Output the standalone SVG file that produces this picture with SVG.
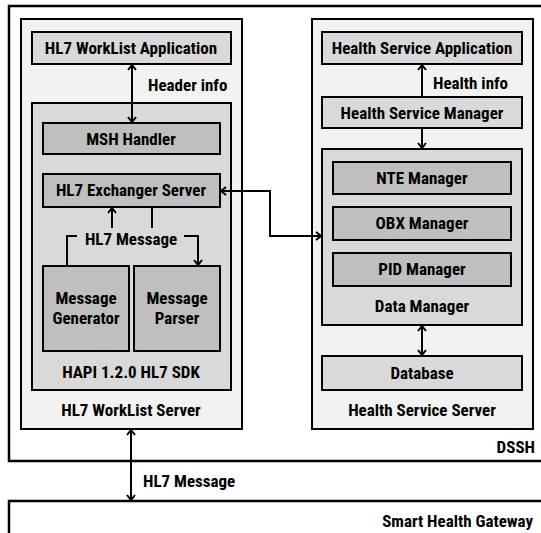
<svg xmlns="http://www.w3.org/2000/svg" width="541" height="533" viewBox="0 0 541 533">
<style>
text{font-family:"Liberation Sans Narrow","Roboto Condensed","DejaVu Sans Condensed","Noto Sans",sans-serif;font-weight:bold;font-size:17px;fill:#000;text-anchor:middle}
.outer{fill:#fff;stroke:#000;stroke-width:2.5}
.srv{fill:#f2f2f2;stroke:#000;stroke-width:2}
.mid{fill:#d9d9d9;stroke:#000;stroke-width:2}
.dark{fill:#bfbfbf;stroke:#000;stroke-width:2}
.c{fill:none;stroke:#000;stroke-width:2}
</style>
<defs>
<marker id="ah" viewBox="0 0 10 10" refX="9" refY="5" markerWidth="10" markerHeight="10" markerUnits="userSpaceOnUse" orient="auto-start-reverse">
<path d="M4,1 L9,5 L4,9" fill="none" stroke="#000" stroke-width="2"/>
</marker>
</defs>
<g id="dssh"><rect class="outer" x="9" y="6" width="540" height="455"/><text x="535" y="453" style="text-anchor:end">DSSH</text></g>
<g id="gateway"><rect class="outer" x="9" y="501" width="540" height="40"/><text x="533" y="527" style="text-anchor:end">Smart Health Gateway</text></g>
<g id="worklist-server"><rect class="srv" x="21" y="19" width="221" height="410"/><text x="131" y="416">HL7 WorkList Server</text></g>
<g id="worklist-app"><rect class="mid" x="32" y="32" width="199" height="32"/><text x="131" y="54">HL7 WorkList Application</text></g>
<g id="hapi"><rect class="mid" x="32" y="103" width="199" height="287"/><text x="131" y="378">HAPI 1.2.0 HL7 SDK</text></g>
<g id="msh"><rect class="dark" x="43" y="123" width="177" height="31"/><text x="131" y="145">MSH Handler</text></g>
<g id="exchanger"><rect class="dark" x="43" y="174" width="177" height="33"/><text x="131" y="196">HL7 Exchanger Server</text></g>
<g id="generator"><rect class="dark" x="43" y="266" width="86" height="85"/><text x="86" y="304">Message</text><text x="86" y="324">Generator</text></g>
<g id="parser"><rect class="dark" x="134" y="266" width="86" height="85"/><text x="177" y="304">Message</text><text x="177" y="324">Parser</text></g>
<g id="health-server"><rect class="srv" x="312" y="19" width="221" height="410"/><text x="422" y="416">Health Service Server</text></g>
<g id="health-app"><rect class="mid" x="322" y="32" width="200" height="32"/><text x="422" y="54">Health Service Application</text></g>
<g id="health-manager"><rect class="mid" x="322" y="97" width="200" height="31"/><text x="422" y="119">Health Service Manager</text></g>
<g id="data-manager"><rect class="mid" x="322" y="149" width="200" height="176"/><text x="422" y="312">Data Manager</text></g>
<g id="nte"><rect class="dark" x="333" y="162" width="178" height="32"/><text x="422" y="184">NTE Manager</text></g>
<g id="obx"><rect class="dark" x="333" y="207" width="178" height="33"/><text x="422" y="229">OBX Manager</text></g>
<g id="pid"><rect class="dark" x="333" y="253" width="178" height="33"/><text x="422" y="275">PID Manager</text></g>
<g id="database"><rect class="mid" x="322" y="356" width="200" height="34"/><text x="422" y="379">Database</text></g>
<g id="connectors">
<line class="c" x1="132" y1="65" x2="132" y2="122" marker-start="url(#ah)" marker-end="url(#ah)"/>
<text x="148" y="91" style="text-anchor:start">Header info</text>
<line class="c" x1="112" y1="228" x2="112" y2="208" marker-end="url(#ah)"/>
<line class="c" x1="152" y1="207" x2="152" y2="228"/>
<polyline class="c" points="67,266 67,236 77,236"/>
<polyline class="c" points="184,236 198,236 198,265" marker-end="url(#ah)"/>
<text x="131" y="245">HL7 Message</text>
<line class="c" x1="422" y1="96" x2="422" y2="65" marker-end="url(#ah)"/>
<text x="433" y="89" style="text-anchor:start">Health info</text>
<line class="c" x1="422" y1="128" x2="422" y2="148" marker-end="url(#ah)"/>
<line class="c" x1="422" y1="326" x2="422" y2="355" marker-start="url(#ah)" marker-end="url(#ah)"/>
<polyline class="c" points="221,191 270,191 270,236 321,236" marker-start="url(#ah)" marker-end="url(#ah)"/>
<line class="c" x1="131" y1="430" x2="131" y2="500" marker-start="url(#ah)" marker-end="url(#ah)"/>
<text x="143" y="487" style="text-anchor:start">HL7 Message</text>
</g>
</svg>
